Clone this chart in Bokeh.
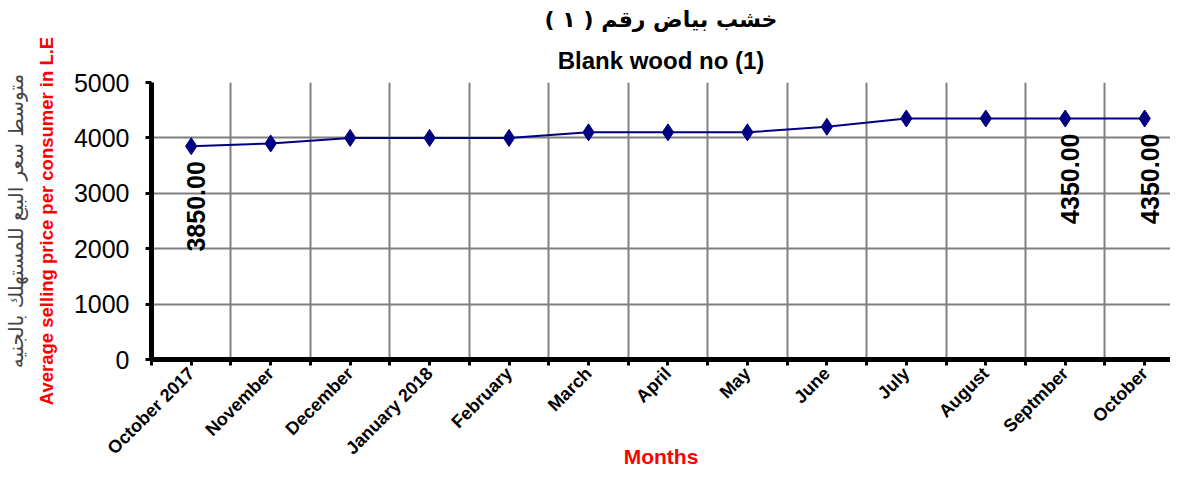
from math import pi
from bokeh.plotting import figure
from bokeh.models import ColumnDataSource, FixedTicker, LinearAxis, Range1d, Title
from bokeh.embed import file_html
from bokeh.resources import INLINE
from bokeh.core.properties import value

# ---------------- data ----------------
months = ["October 2017", "November", "December", "January 2018", "February", "March",
          "April", "May", "June", "July", "August", "Septmber", "October"]
prices = [3850, 3900, 4000, 4000, 4000, 4100, 4100, 4100, 4200, 4350, 4350, 4350, 4350]
labelled_idx = [0, 11, 12]
y_ticks = [0, 1000, 2000, 3000, 4000, 5000]

title_ar = "خشب بياض رقم ( ١ )"
title_en = "Blank wood no (1)"
ylabel_ar = "متوسط سعر البيع للمستهلك بالجنيه"
ylabel_en = "Average selling price per consumer in L.E"
xlabel = "Months"

# ---------------- sources ----------------
xs = list(range(len(months)))
src = ColumnDataSource(dict(x=xs, y=prices))
lab = ColumnDataSource(dict(
    x=[xs[i] for i in labelled_idx],
    y=[prices[i] for i in labelled_idx],
    t=[f"{prices[i]:.2f}" for i in labelled_idx],
))

W, H = 1170, 471
frame_left = 144          # px inside figure
cat_px = 80               # px per category in the reference
x_end = -0.5 + (W - frame_left) / cat_px

p = figure(width=W, height=H, x_range=Range1d(-0.5, x_end), y_range=Range1d(0, 5000),
           output_backend="svg", toolbar_location=None,
           min_border_left=frame_left, min_border_right=0, min_border_top=75,
           min_border_bottom=111)
p.outline_line_color = None
p.background_fill_color = "white"
p.border_fill_color = "white"

# titles (p.title is the outer one, the added one sits nearer the plot)
p.title.text = title_ar
p.title.align = "center"
p.title.text_font = "DejaVu Sans"
p.title.text_font_size = "22px"
p.title.text_font_style = "bold"
p.title.text_color = "black"
p.title.standoff = 8
p.add_layout(Title(text=title_en, align="center", text_font="Liberation Sans",
                   text_font_size="24px", text_font_style="bold", text_color="black",
                   standoff=18), "above")

# grid
boundaries = [i - 0.5 for i in xs] + [xs[-1] + 0.5]
p.xgrid.ticker = FixedTicker(ticks=boundaries)
p.xgrid.grid_line_color = "#808080"
p.xgrid.grid_line_width = 2
p.ygrid.grid_line_color = "#808080"
p.ygrid.grid_line_width = 2

# x axis
xa = p.xaxis[0]
xa.ticker = FixedTicker(ticks=xs, minor_ticks=boundaries)
xa.major_label_overrides = {i: m for i, m in zip(xs, months)}
xa.major_label_orientation = pi / 4
xa.major_label_text_font = "Liberation Sans"
xa.major_label_text_font_style = "bold"
xa.major_label_text_font_size = "18px"
xa.major_label_text_line_height = 0.8
xa.major_label_text_color = "black"
xa.major_label_standoff = 5
xa.axis_line_width = 5
xa.axis_line_color = "black"
xa.major_tick_line_color = "black"
xa.major_tick_line_width = 3
xa.major_tick_in = 0
xa.major_tick_out = 6
xa.minor_tick_line_color = "black"
xa.minor_tick_line_width = 3
xa.minor_tick_in = 0
xa.minor_tick_out = 6
xa.axis_label = xlabel
xa.axis_label_text_font = "Liberation Sans"
xa.axis_label_text_font_style = "bold"
xa.axis_label_text_font_size = "21px"
xa.axis_label_text_color = "red"
xa.axis_label_standoff = -23

# y axis
ya = p.yaxis[0]
ya.ticker = FixedTicker(ticks=y_ticks)
ya.major_label_text_font = "Liberation Sans"
ya.major_label_text_font_size = "25px"
ya.major_label_text_font_style = "normal"
ya.major_label_text_color = "black"
ya.major_label_standoff = 16
ya.axis_line_width = 5
ya.axis_line_color = "black"
ya.major_tick_line_color = "black"
ya.major_tick_line_width = 3
ya.major_tick_in = 0
ya.major_tick_out = 6
ya.minor_tick_line_color = None
ya.axis_label = ylabel_en
ya.axis_label_text_font = "Liberation Sans"
ya.axis_label_text_font_style = "bold"
ya.axis_label_text_font_size = "18.5px"
ya.axis_label_text_color = "red"
ya.axis_label_standoff = 14

ar_axis = LinearAxis(ticker=FixedTicker(ticks=[]), axis_label=ylabel_ar,
                     axis_line_color=None, major_tick_line_color=None,
                     minor_tick_line_color=None, major_label_text_font_size="0px",
                     major_tick_in=0, major_tick_out=0, minor_tick_in=0, minor_tick_out=0,
                     major_label_standoff=0, axis_label_standoff=5,
                     axis_label_text_font="DejaVu Sans", axis_label_text_font_size="20px",
                     axis_label_text_font_style="normal", axis_label_text_color="#444444")
p.add_layout(ar_axis, "left")

# series
p.line("x", "y", source=src, line_color="#000080", line_width=2)
p.scatter("x", "y", source=src, marker="diamond", size=17,
          fill_color="#000080", line_color="#000080")
p.text("x", "y", text="t", source=lab, angle=pi / 2, text_align="right",
       text_baseline="middle", x_offset=5, y_offset=15,
       text_font=value("Liberation Sans"), text_font_style="bold",
       text_font_size="25px", text_color="black")

open("out.html", "w").write(file_html(p, INLINE))
